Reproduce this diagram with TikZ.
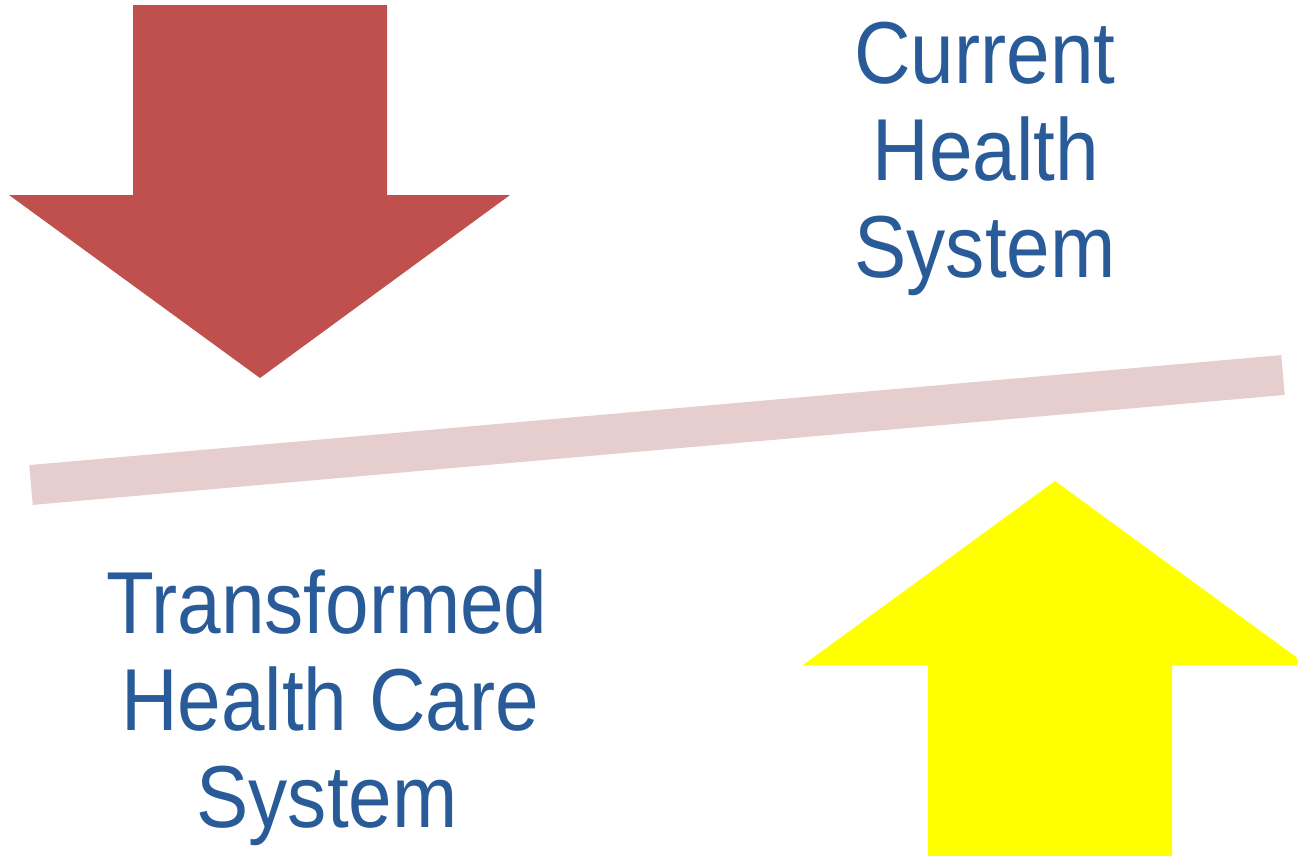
\documentclass[tikz,border=0pt]{standalone}
\usepackage{fontspec}
\setmainfont{Liberation Sans}
\definecolor{arrowred}{RGB}{192,80,77}
\definecolor{arrowyellow}{RGB}{255,255,0}
\definecolor{barpink}{RGB}{230,206,207}
\definecolor{textblue}{RGB}{41,91,153}
\tikzset{
  label/.style={text=textblue, inner sep=0pt, anchor=base,
    font=\fontsize{88}{97}\selectfont},
  bigarrow/.style={draw=none}
}
\newcommand{\sq}[1]{\scalebox{0.89}[1]{#1}}
\begin{document}
\begin{tikzpicture}[x=1pt,y=-1pt]
\useasboundingbox (0,0) rectangle (1297,855);
\clip (0,0) rectangle (1297,855);
% red arrow down
\fill[arrowred] (133,5) -- (387,5) -- (387,195) -- (510,195) -- (260,378) -- (9,195) -- (133,195) -- cycle;
% yellow arrow up
\fill[arrowyellow] (1055,481) -- (1307,665) -- (1172,665) -- (1172,860) -- (928,860) -- (928,665) -- (803,665) -- cycle;
% bar
\coordinate (barL) at (31,485);
\coordinate (barR) at (1283,375);
\draw[barpink, line width=40pt] (barL) -- (barR);
% texts
\node[label] (c1) at (985,83) {\sq{Current}};
\node[label] (c2) at (986,180) {\sq{Health}};
\node[label] (c3) at (985,277) {\sq{System}};
\node[label] (t1) at (327,633) {\sq{Transformed}};
\node[label] (t2) at (330,730) {\sq{Health Care}};
\node[label] (t3) at (327,827) {\sq{System}};
\end{tikzpicture}
\end{document}
